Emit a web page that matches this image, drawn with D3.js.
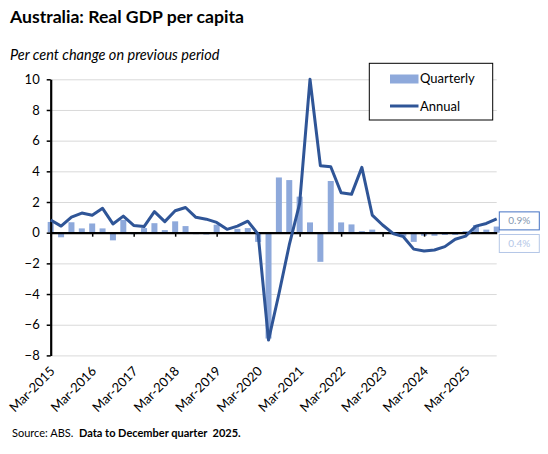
<!DOCTYPE html>
<html>
<head>
<meta charset="utf-8">
<script src="https://cdn.jsdelivr.net/npm/d3@7"></script>
<style>
  html, body { margin: 0; padding: 0; background: #ffffff; }
  svg { display: block; font-family: Lato, "Liberation Sans", sans-serif; }
</style>
</head>
<body>
<svg id="chart" width="548" height="454"></svg>
<script>
const categories = [
  "Mar-2015","Jun-2015","Sep-2015","Dec-2015",
  "Mar-2016","Jun-2016","Sep-2016","Dec-2016",
  "Mar-2017","Jun-2017","Sep-2017","Dec-2017",
  "Mar-2018","Jun-2018","Sep-2018","Dec-2018",
  "Mar-2019","Jun-2019","Sep-2019","Dec-2019",
  "Mar-2020","Jun-2020","Sep-2020","Dec-2020",
  "Mar-2021","Jun-2021","Sep-2021","Dec-2021",
  "Mar-2022","Jun-2022","Sep-2022","Dec-2022",
  "Mar-2023","Jun-2023","Sep-2023","Dec-2023",
  "Mar-2024","Jun-2024","Sep-2024","Dec-2024",
  "Mar-2025","Jun-2025","Sep-2025","Dec-2025"
];
const quarterly = [
  0.7, -0.3, 0.68, 0.28, 0.6, 0.28, -0.5, 0.83,
  -0.1, 0.3, 0.62, 0.17, 0.74, 0.43, -0.1, -0.12,
  0.52, -0.05, 0.25, 0.3, -0.6, -6.9, 3.6, 3.43,
  2.35, 0.67, -1.9, 3.37, 0.67, 0.54, 0.1, 0.2,
  0.05, -0.1, -0.25, -0.6, -0.2, -0.2, -0.15, -0.15,
  0.1, 0.5, 0.2, 0.4
];
const annual = [
  0.83, 0.43, 1.02, 1.28, 1.14, 1.59, 0.57, 1.08,
  0.47, 0.4, 1.37, 0.72, 1.43, 1.64, 1.0, 0.88,
  0.67, 0.22, 0.43, 0.75, -0.1, -7.0, -4.0, -0.8,
  1.9, 10.0, 4.37, 4.3, 2.6, 2.5, 4.26, 1.15,
  0.5, -0.05, -0.26, -1.07, -1.2, -1.13, -0.91, -0.43,
  -0.22, 0.43, 0.6, 0.9
];
const yTicks = [-8, -6, -4, -2, 0, 2, 4, 6, 8, 10];
const xTickLabels = ["Mar-2015","Mar-2016","Mar-2017","Mar-2018","Mar-2019",
  "Mar-2020","Mar-2021","Mar-2022","Mar-2023","Mar-2024","Mar-2025"];
const seriesNames = ["Quarterly", "Annual"];
const titleText = "Australia: Real GDP per capita";
const subtitleText = "Per cent change on previous period";

const barColor = "#8EA9DB";
const lineColor = "#2F5597";

const svg = d3.select("#chart");
const pLeft = 50.7, pRight = 496.7, pTop = 79.3, pBottom = 355.4;

const x = d3.scalePoint().domain(categories).range([pLeft, pRight]);
const y = d3.scaleLinear().domain([-8, 10]).range([pBottom, pTop]);

// title & subtitle
svg.append("text").attr("x", 10).attr("y", 23)
  .attr("font-weight", "bold").attr("font-size", 17.6).attr("fill", "#000")
  .text(titleText);
svg.append("text").attr("x", 10).attr("y", 59.5)
  .attr("font-style", "italic").attr("font-size", 14.5).attr("fill", "#000")
  .text(subtitleText);

// gridlines
const grid = svg.append("g").attr("transform", `translate(${pLeft},0)`)
  .call(d3.axisLeft(y).tickValues(yTicks).tickSize(-(pRight - pLeft)).tickFormat(""));
grid.select(".domain").remove();
grid.selectAll("line").attr("stroke", "#D9D9D9").attr("stroke-width", 1);

// bars
const bw = 6;
svg.append("g").selectAll("rect").data(quarterly).join("rect")
  .attr("x", (d, i) => x(categories[i]) - bw / 2)
  .attr("width", bw)
  .attr("y", d => y(Math.max(0, d)))
  .attr("height", d => Math.abs(y(d) - y(0)))
  .attr("fill", barColor);

// zero axis with ticks
const xAxis = svg.append("g").attr("transform", `translate(0,${y(0)})`)
  .call(d3.axisBottom(x).tickValues(xTickLabels).tickSize(4).tickSizeOuter(0).tickFormat(""));
xAxis.select(".domain").attr("stroke", "#000").attr("stroke-width", 2.2);
xAxis.selectAll(".tick line").attr("stroke", "#000").attr("stroke-width", 1.5);

// y axis
const yAxis = svg.append("g").attr("transform", `translate(${pLeft},0)`)
  .call(d3.axisLeft(y).tickValues(yTicks).tickSize(4).tickSizeOuter(0).tickPadding(7));
yAxis.select(".domain").attr("stroke", "#000").attr("stroke-width", 2.2);
yAxis.selectAll(".tick line").attr("stroke", "#000").attr("stroke-width", 1.5);
yAxis.selectAll(".tick text").attr("font-size", 13).attr("fill", "#000")
  .attr("font-family", "Lato, 'Liberation Sans', sans-serif");

// x labels (rotated, at the bottom)
svg.append("g").selectAll("text").data(xTickLabels).join("text")
  .attr("transform", d => `translate(${x(d) + 5},372) rotate(-45)`)
  .attr("text-anchor", "end")
  .attr("font-size", 13).attr("fill", "#000")
  .text(d => d);

// annual line
const line = d3.line().x((d, i) => x(categories[i])).y(d => y(d));
svg.append("path").datum(annual)
  .attr("d", line).attr("fill", "none")
  .attr("stroke", lineColor).attr("stroke-width", 3)
  .attr("stroke-linejoin", "round");

// end labels
const lastA = annual[annual.length - 1];
const lastQ = quarterly[quarterly.length - 1];
const boxX = pRight + 2.6, boxW = 40, boxH = 18;
const box1Y = y(lastA) - 7;
const box2Y = box1Y + boxH + 4.6;
const labels = [
  {v: lastA, yy: box1Y, stroke: "#4472C4", fill: "#8497B0"},
  {v: lastQ, yy: box2Y, stroke: "#B4C7E7", fill: "#B4C7E7"}
];
const lg = svg.append("g").selectAll("g").data(labels).join("g");
lg.append("rect").attr("x", boxX).attr("y", d => d.yy).attr("width", boxW).attr("height", boxH)
  .attr("fill", "#fff").attr("stroke", d => d.stroke).attr("stroke-width", 1);
lg.append("text").attr("x", boxX + boxW / 2).attr("y", d => d.yy + boxH / 2 + 3.5)
  .attr("text-anchor", "middle").attr("font-size", 10).attr("fill", d => d.fill)
  .text(d => d3.format(".1f")(d.v) + "%");

// legend
const leg = svg.append("g");
leg.append("rect").attr("x", 369.3).attr("y", 63.3).attr("width", 123.4).attr("height", 56.7)
  .attr("fill", "#fff").attr("stroke", "#000").attr("stroke-width", 1);
leg.append("rect").attr("x", 390).attr("y", 74.5).attr("width", 28.5).attr("height", 9)
  .attr("fill", barColor);
leg.append("text").attr("x", 420).attr("y", 83).attr("font-size", 13).attr("fill", "#000")
  .text(seriesNames[0]);
leg.append("line").attr("x1", 390).attr("x2", 418.5).attr("y1", 106).attr("y2", 106)
  .attr("stroke", lineColor).attr("stroke-width", 3);
leg.append("text").attr("x", 420).attr("y", 111).attr("font-size", 13).attr("fill", "#000")
  .text(seriesNames[1]);

// footer
const foot = svg.append("text").attr("x", 12).attr("y", 437).attr("font-size", 11).attr("fill", "#000");
foot.append("tspan").text("Source: ABS.\u00a0\u00a0");
foot.append("tspan").attr("font-weight", "bold").text("Data to December quarter\u00a0\u00a02025.");
</script>
</body>
</html>
